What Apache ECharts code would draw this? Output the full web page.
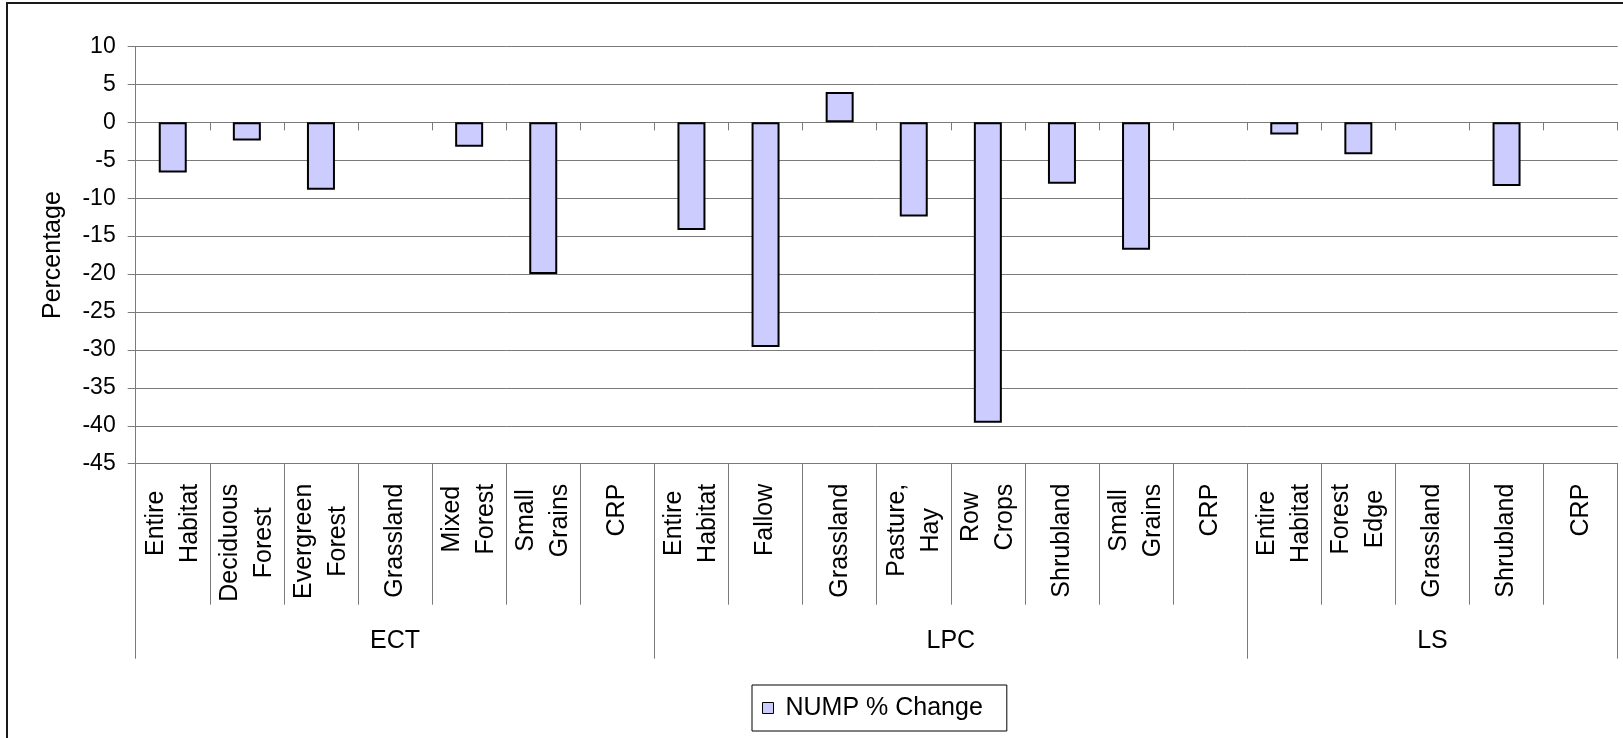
<!DOCTYPE html>
<html>
<head>
<meta charset="utf-8">
<title>NUMP % Change by habitat</title>
<script src="https://cdn.jsdelivr.net/npm/echarts@6/dist/echarts.min.js"></script>
<style>
  html, body { margin: 0; padding: 0; background: #ffffff; }
  #chart { width: 1623px; height: 738px; }
</style>
</head>
<body>
<div id="chart"></div>
<script>
// Study areas and the habitat classes measured in each
const groupNames = ['ECT', 'LPC', 'LS'];

const ectHabitats = ['Entire\nHabitat', 'Deciduous\nForest', 'Evergreen\nForest', 'Grassland', 'Mixed\nForest', 'Small\nGrains', 'CRP'];
const ectChange   = [-6.6, -2.4, -8.9, null, -3.2, -20.0, null];

const lpcHabitats = ['Entire\nHabitat', 'Fallow', 'Grassland', 'Pasture,\nHay', 'Row\nCrops', 'Shrubland', 'Small\nGrains', 'CRP'];
const lpcChange   = [-14.2, -29.6, 4.0, -12.4, -39.6, -8.1, -16.8, null];

const lsHabitats  = ['Entire\nHabitat', 'Forest\nEdge', 'Grassland', 'Shrubland', 'CRP'];
const lsChange    = [-1.6, -4.2, null, -8.4, null];

const seriesName = 'NUMP % Change';
const yMin = -45, yMax = 10, yStep = 5;

// Flattened category list plus group boundaries / centres on a 0..N scale
const groupHabitats = [ectHabitats, lpcHabitats, lsHabitats];
const categories = [].concat(ectHabitats, lpcHabitats, lsHabitats);
const values = [].concat(ectChange, lpcChange, lsChange);
const boundaries = [0];
const centres = [];
groupHabitats.forEach(function (list) {
  const start = boundaries[boundaries.length - 1];
  centres.push(start + list.length / 2);
  boundaries.push(start + list.length);
});

const FONT = '"Liberation Sans", Arial, sans-serif';
const GRID_GRAY = '#7a7a7a';

const chart = echarts.init(document.getElementById('chart'), null, { renderer: 'canvas' });

chart.setOption({
  animation: false,
  backgroundColor: '#ffffff',
  textStyle: { fontFamily: FONT, color: '#000' },
  graphic: [{
    type: 'rect',
    z: -10,
    shape: { x: 7, y: 3, width: 1700, height: 800 },
    style: { fill: 'none', stroke: '#1a1a1a', lineWidth: 2 }
  }],
  grid: { left: 135.7, right: 5.3, top: 46.5, bottom: 274.3, containLabel: false },
  legend: {
    left: 752, top: 685,
    data: [seriesName],
    icon: 'rect',
    itemWidth: 11, itemHeight: 11,
    itemStyle: { borderWidth: 1, borderColor: '#000' },
    borderColor: '#000', borderWidth: 1,
    padding: [9, 24, 9, 10],
    textStyle: { fontFamily: FONT, fontSize: 25, color: '#000', padding: [0, 0, 0, 7], lineHeight: 28 }
  },
  xAxis: [
    {
      // ticks along the zero line
      type: 'category',
      data: categories,
      position: 'bottom',
      axisLine: { show: true, onZero: true, lineStyle: { color: GRID_GRAY, width: 1 } },
      axisTick: { show: true, interval: 0, length: 8, lineStyle: { color: GRID_GRAY } },
      axisLabel: { show: false },
      splitLine: { show: false }
    },
    {
      // habitat labels below the plot
      type: 'category',
      data: categories,
      position: 'bottom',
      axisLine: { show: true, onZero: false, lineStyle: { color: GRID_GRAY, width: 1 } },
      axisTick: { show: true, interval: 0, length: 141, lineStyle: { color: GRID_GRAY } },
      axisLabel: {
        show: true, interval: 0, rotate: 90, margin: 20,
        fontFamily: FONT, fontSize: 25, color: '#000',
        formatter: function (v) {
          return v.split('\n').map(function (s) { return '{c|' + s + '}'; }).join('\n');
        },
        rich: { c: { align: 'center', fontFamily: FONT, fontSize: 25, lineHeight: 34, color: '#000' } }
      },
      splitLine: { show: false }
    },
    {
      // study area level
      type: 'value',
      min: 0, max: categories.length,
      position: 'bottom',
      axisLine: { show: false, onZero: false },
      axisTick: { show: true, customValues: boundaries, length: 195, lineStyle: { color: GRID_GRAY } },
      axisLabel: {
        show: true, customValues: centres, margin: 165,
        fontFamily: FONT, fontSize: 25, color: '#000',
        formatter: function (v) {
          const i = centres.indexOf(v);
          return i >= 0 ? groupNames[i] : '';
        }
      },
      splitLine: { show: false }
    }
  ],
  yAxis: {
    type: 'value',
    min: yMin, max: yMax, interval: yStep,
    name: 'Percentage',
    nameLocation: 'middle',
    nameRotate: 90,
    nameGap: 70,
    nameTextStyle: { fontFamily: FONT, fontSize: 25, color: '#000' },
    axisLine: { show: true, onZero: false, lineStyle: { color: GRID_GRAY, width: 1 } },
    axisTick: { show: true, length: 8, lineStyle: { color: GRID_GRAY } },
    axisLabel: { margin: 20, fontFamily: FONT, fontSize: 23, color: '#000' },
    splitLine: { show: true, lineStyle: { color: GRID_GRAY, width: 1 } }
  },
  series: [{
    name: seriesName,
    type: 'bar',
    xAxisIndex: 0,
    yAxisIndex: 0,
    data: values,
    barWidth: 28,
    itemStyle: { color: '#CCCCFF', borderColor: '#000', borderWidth: 2 }
  }]
});
</script>
</body>
</html>
